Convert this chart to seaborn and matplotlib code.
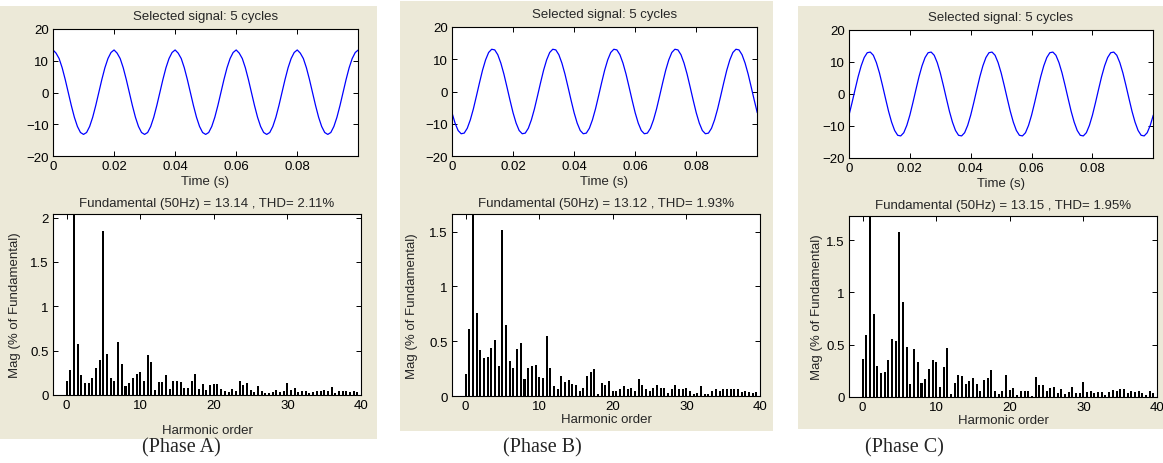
import numpy as np
import pandas as pd
import matplotlib.pyplot as plt
import seaborn as sns
from matplotlib.patches import Rectangle

# ---- data ----
phase_names = ["(Phase A)", "(Phase B)", "(Phase C)"]
fundamental = [13.14, 13.12, 13.15]
thd = [2.11, 1.93, 1.95]

# one 20 ms cycle of each phase voltage, sampled every 1 ms
cycle_a = [13.4, 12.4, 10.7, 7.8, 4.1, 0.0, -4.1, -7.8, -10.7, -12.6,
           -13.2, -12.6, -10.7, -7.8, -4.1, 0.0, 4.1, 7.8, 10.7, 12.6]
cycle_b = [-6.6, -9.8, -12.1, -13.1, -12.9, -11.4, -8.8, -5.4, -1.4, 2.7,
           6.6, 9.8, 12.1, 13.1, 12.9, 11.4, 8.8, 5.4, 1.4, -2.7]
cycle_c = [-6.6, -2.7, 1.4, 5.4, 8.8, 11.4, 12.9, 13.1, 12.1, 9.8,
           6.6, 2.7, -1.4, -5.4, -8.8, -11.4, -12.9, -13.1, -12.1, -9.8]
n_cycles = 5
dt = 0.001

harmonic_order = np.arange(0, 40, 0.5)
# magnitude in % of fundamental, order 1 is the fundamental (100 %, clipped)
mag_a = [0.16, 0.28, 100, 0.58, 0.23, 0.14, 0.14, 0.195, 0.30, 0.39,
         1.85, 0.46, 0.195, 0.16, 0.60, 0.35, 0.10, 0.14, 0.195, 0.24,
         0.26, 0.16, 0.45, 0.37, 0.06, 0.15, 0.15, 0.23, 0.07, 0.16,
         0.16, 0.15, 0.08, 0.08, 0.16, 0.24, 0.07, 0.12, 0.06, 0.11,
         0.12, 0.12, 0.07, 0.04, 0.03, 0.07, 0.05, 0.16, 0.11, 0.13,
         0.06, 0.03, 0.10, 0.05, 0.02, 0.02, 0.03, 0.06, 0.03, 0.05,
         0.13, 0.06, 0.075, 0.03, 0.05, 0.04, 0.02, 0.03, 0.04, 0.05,
         0.06, 0.04, 0.085, 0.02, 0.05, 0.04, 0.04, 0.03, 0.04, 0.03]
mag_b = [0.20, 0.615, 100, 0.76, 0.42, 0.345, 0.36, 0.44, 0.515, 0.27,
         1.51, 0.65, 0.32, 0.255, 0.43, 0.48, 0.155, 0.255, 0.27, 0.28,
         0.17, 0.16, 0.545, 0.255, 0.09, 0.065, 0.18, 0.13, 0.145, 0.11,
         0.10, 0.05, 0.07, 0.18, 0.22, 0.245, 0.02, 0.12, 0.10, 0.14,
         0.05, 0.05, 0.065, 0.09, 0.06, 0.075, 0.05, 0.155, 0.10, 0.06,
         0.05, 0.075, 0.10, 0.075, 0.075, 0.03, 0.06, 0.10, 0.06, 0.065,
         0.075, 0.045, 0.02, 0.03, 0.095, 0.02, 0.02, 0.05, 0.065, 0.05,
         0.06, 0.065, 0.065, 0.06, 0.065, 0.04, 0.05, 0.04, 0.03, 0.04]
mag_c = [0.36, 0.59, 100, 0.79, 0.30, 0.23, 0.24, 0.35, 0.55, 0.54,
         1.58, 0.91, 0.48, 0.125, 0.455, 0.335, 0.135, 0.17, 0.27, 0.35,
         0.335, 0.095, 0.29, 0.465, 0.03, 0.135, 0.21, 0.20, 0.125, 0.15,
         0.18, 0.125, 0.06, 0.16, 0.18, 0.26, 0.06, 0.03, 0.06, 0.21,
         0.07, 0.085, 0.02, 0.06, 0.06, 0.06, 0.01, 0.19, 0.115, 0.11,
         0.06, 0.085, 0.095, 0.04, 0.075, 0.025, 0.05, 0.095, 0.04, 0.04,
         0.145, 0.05, 0.06, 0.04, 0.05, 0.05, 0.015, 0.05, 0.065, 0.055,
         0.075, 0.075, 0.04, 0.06, 0.05, 0.06, 0.04, 0.02, 0.055, 0.04]
mag_top = [2.04, 1.66, 1.73]
mag_ticks = [[0, 0.5, 1, 1.5, 2], [0, 0.5, 1, 1.5], [0, 0.5, 1, 1.5]]

# ---- layout (pixel boxes: x0, y0, x1, y1 from top-left) ----
W, H = 1163, 464
BEIGE = "#ece9d8"
layout = [
    dict(bg=(0, 7, 377, 440), top=(53, 30, 358, 157), bot=(53, 215, 361, 396),
         label_x=181, hpad=9, ypad=7),
    dict(bg=(400, 2, 773, 432), top=(452, 28, 757, 157), bot=(452, 215, 760, 397),
         label_x=542, hpad=0.5, ypad=8),
    dict(bg=(798, 7, 1163, 430), top=(849, 31, 1153, 159), bot=(849, 217, 1157, 398),
         label_x=904, hpad=0.5, ypad=2.5),
]

sns.set_theme(style="ticks")
plt.rcParams['font.family'] = ['Liberation Sans', 'DejaVu Sans']
plt.rcParams['axes.edgecolor'] = 'black'
plt.rcParams['axes.linewidth'] = 0.8

fig = plt.figure(figsize=(W / 100, H / 100), dpi=100, facecolor='white')


def px_axes(x0, y0, x1, y1):
    ax = fig.add_axes([x0 / W, 1 - y1 / H, (x1 - x0) / W, (y1 - y0) / H])
    ax.set_zorder(2)
    return ax


def style_axes(ax):
    ax.set_facecolor('white')
    ax.tick_params(direction='in', top=True, right=True, length=3.5, width=0.7,
                   labelsize=9.5, pad=3, colors='black')


cycles = [cycle_a, cycle_b, cycle_c]
mags = [mag_a, mag_b, mag_c]

for i, lay in enumerate(layout):
    x0, y0, x1, y1 = lay['bg']
    fig.patches.append(Rectangle((x0 / W, 1 - y1 / H), (x1 - x0) / W, (y1 - y0) / H,
                                 transform=fig.transFigure, facecolor=BEIGE,
                                 edgecolor='none', zorder=-1))

    # waveform
    sig = np.append(np.tile(cycles[i], n_cycles), cycles[i][0])
    wave = pd.DataFrame({'t': np.arange(len(sig)) * dt, 'v': sig})
    ax = px_axes(*lay['top'])
    sns.lineplot(data=wave, x='t', y='v', color='#0000ff', linewidth=0.9, ax=ax)
    ax.set_xlim(0, 0.0999)
    ax.set_ylim(-20, 20)
    ax.set_xticks([0, 0.02, 0.04, 0.06, 0.08])
    ax.set_xticklabels(['0', '0.02', '0.04', '0.06', '0.08'])
    ax.set_yticks([-20, -10, 0, 10, 20])
    ax.set_title('Selected signal: 5 cycles', fontsize=9.5, pad=7)
    ax.set_xlabel('Time (s)', fontsize=9.5, labelpad=2)
    ax.set_ylabel('')
    style_axes(ax)

    # spectrum
    spec = pd.DataFrame({'order': harmonic_order, 'mag': mags[i]})
    ax = px_axes(*lay['bot'])
    sns.barplot(data=spec, x='order', y='mag', native_scale=True, color='black',
                saturation=1, width=0.55, errorbar=None, linewidth=0, ax=ax)
    ax.set_xlim(-1.85, 40)
    ax.set_ylim(0, mag_top[i])
    ax.set_xticks([0, 10, 20, 30, 40])
    ax.set_xticklabels(['0', '10', '20', '30', '40'])
    ax.set_yticks(mag_ticks[i])
    ax.set_yticklabels(['%g' % v for v in mag_ticks[i]])
    ax.set_title('Fundamental (50Hz) = %.2f , THD= %.2f%%' % (fundamental[i], thd[i]),
                 fontsize=9.5, pad=6)
    ax.set_xlabel('Harmonic order', fontsize=9.5, labelpad=lay['hpad'])
    ax.set_ylabel('Mag (% of Fundamental)', fontsize=9.5, labelpad=lay['ypad'])
    style_axes(ax)

    fig.text(lay['label_x'] / W, 1 - 448 / H, phase_names[i], ha='center', va='center',
             fontsize=14.5, family=['Liberation Serif', 'DejaVu Serif'])

fig.savefig('out.png', dpi=100, facecolor='white')
